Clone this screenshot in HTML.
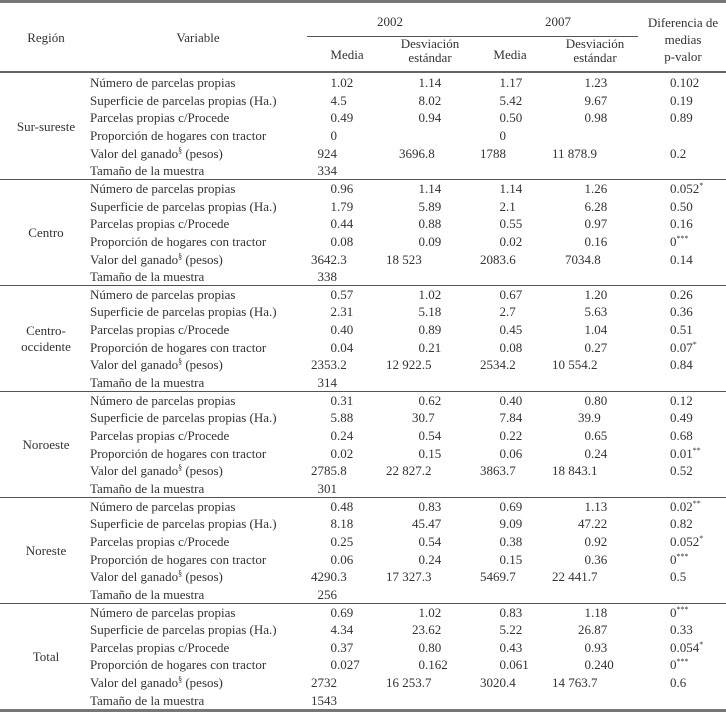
<!DOCTYPE html>
<html><head><meta charset="utf-8">
<style>
html,body{margin:0;padding:0;background:#fff;}
#tbl{position:relative;width:726px;height:714px;overflow:hidden;font-family:"Liberation Serif",serif;font-size:13px;color:#333;}
.t{position:absolute;white-space:nowrap;line-height:16px;}
.ln{position:absolute;background:#555;}
sup{font-size:8px;vertical-align:5px;line-height:0;}
</style></head>
<body>
<div id="tbl">
  <div class="ln" style="left:0;top:0;width:726px;height:3px;background:#777"></div>
  <div class="ln" style="left:307px;top:36px;width:331px;height:1px"></div>
  <div class="ln" style="left:0;top:71px;width:726px;height:2px;background:#666"></div>
  <div class="ln" style="left:0;top:709px;width:726px;height:3px;background:#777"></div>
  <div class="t" style="left:0;width:92px;text-align:center;top:30px">Región</div>
  <div class="t" style="left:140px;width:116px;text-align:center;top:30px">Variable</div>
  <div class="t" style="left:350px;width:80px;text-align:center;top:14px">2002</div>
  <div class="t" style="left:518px;width:80px;text-align:center;top:14px">2007</div>
  <div class="t" style="left:640px;width:86px;text-align:center;top:14px;line-height:17px">Diferencia de<br>medias<br>p-valor</div>
  <div class="t" style="left:307px;width:80px;text-align:center;top:47px">Media</div>
  <div class="t" style="left:390px;width:80px;text-align:center;top:37px;line-height:14px">Desviación<br>estándar</div>
  <div class="t" style="left:470px;width:80px;text-align:center;top:47px">Media</div>
  <div class="t" style="left:555px;width:80px;text-align:center;top:37px;line-height:14px">Desviación<br>estándar</div>
</div>
<script>
const regions = ["Sur-sureste","Centro","Centro-<br>occidente","Noroeste","Noreste","Total"];
const variables = ["Número de parcelas propias","Superficie de parcelas propias (Ha.)","Parcelas propias c/Procede","Proporción de hogares con tractor","Valor del ganado<sup>§</sup> (pesos)","Tamaño de la muestra"];
const media2002 = [
 ["1.02","4.5","0.49","0","924","334"],
 ["0.96","1.79","0.44","0.08","3642.3","338"],
 ["0.57","2.31","0.40","0.04","2353.2","314"],
 ["0.31","5.88","0.24","0.02","2785.8","301"],
 ["0.48","8.18","0.25","0.06","4290.3","256"],
 ["0.69","4.34","0.37","0.027","2732","1543"]];
const sd2002 = [
 ["1.14","8.02","0.94","","3696.8",""],
 ["1.14","5.89","0.88","0.09","18 523",""],
 ["1.02","5.18","0.89","0.21","12 922.5",""],
 ["0.62","30.7","0.54","0.15","22 827.2",""],
 ["0.83","45.47","0.54","0.24","17 327.3",""],
 ["1.02","23.62","0.80","0.162","16 253.7",""]];
const media2007 = [
 ["1.17","5.42","0.50","0","1788",""],
 ["1.14","2.1","0.55","0.02","2083.6",""],
 ["0.67","2.7","0.45","0.08","2534.2",""],
 ["0.40","7.84","0.22","0.06","3863.7",""],
 ["0.69","9.09","0.38","0.15","5469.7",""],
 ["0.83","5.22","0.43","0.061","3020.4",""]];
const sd2007 = [
 ["1.23","9.67","0.98","","11 878.9",""],
 ["1.26","6.28","0.97","0.16","7034.8",""],
 ["1.20","5.63","1.04","0.27","10 554.2",""],
 ["0.80","39.9","0.65","0.24","18 843.1",""],
 ["1.13","47.22","0.92","0.36","22 441.7",""],
 ["1.18","26.87","0.93","0.240","14 763.7",""]];
const pvalues = [
 ["0.102","0.19","0.89","","0.2",""],
 ["0.052*","0.50","0.16","0***","0.14",""],
 ["0.26","0.36","0.51","0.07*","0.84",""],
 ["0.12","0.49","0.68","0.01**","0.52",""],
 ["0.02**","0.82","0.052*","0***","0.5",""],
 ["0***","0.33","0.054*","0***","0.6",""]];

const tbl = document.getElementById('tbl');
const ROW0 = 83, ROWH = 17.65, SECH = 6*ROWH;
const DIGW = 6.5;
const decCols = [[media2002,337,'media-2002'],[sd2002,425,'sd-2002'],[media2007,506,'media-2007'],[sd2007,591,'sd-2007']];
function addText(html, left, cy, name, extra){
  const d = document.createElement('div');
  d.className = 't';
  d.innerHTML = html;
  d.style.left = left + 'px';
  d.style.top = (cy - 8) + 'px';
  if (extra) d.style.cssText += extra;
  
  
  tbl.appendChild(d);
  return d;
}
function fmt(v){ return v.replace(/\*+/, m => '<sup>'+m+'</sup>'); }
regions.forEach((r, s) => {
  const y0 = ROW0 + s*SECH;
  if (s > 0) {
    const l = document.createElement('div');
    l.className = 'ln';
    l.style.cssText = 'left:0;width:726px;height:1.5px;top:' + (y0 - 10) + 'px';
    
    
    tbl.appendChild(l);
  }
  const two = r.indexOf('<br>') >= 0;
  const rl = addText(r, 0, y0 + 2.5*ROWH - (two ? 8 : 0), 'region-label', 'width:92px;text-align:center;');
  variables.forEach((v, i) => {
    const cy = y0 + i*ROWH;
    addText(v, 90, cy, 'variable-label');
    decCols.forEach(([arr, dec, nm]) => {
      const val = arr[s][i];
      if (!val) return;
      const intPart = val.split('.')[0];
      const left = dec - intPart.length*DIGW;
      addText(val, left, cy, nm + '-value');
    });
    const pv = pvalues[s][i];
    if (pv) addText(fmt(pv), 670, cy, 'p-value');
  });
});
</script>
</body></html>
